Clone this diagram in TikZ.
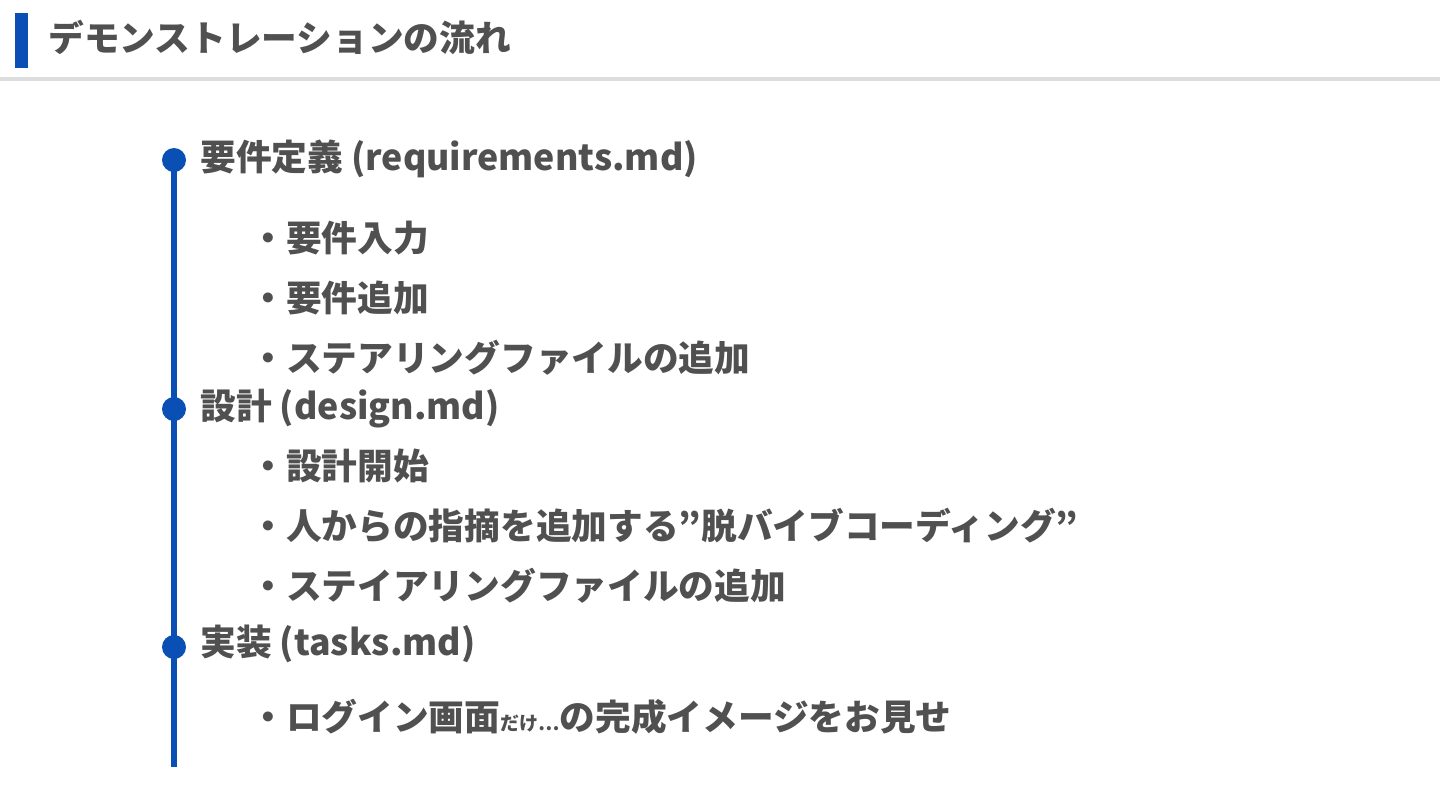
\documentclass[tikz,border=0pt]{standalone}
\usepackage{fontspec}
\setmainfont{Noto Sans CJK JP}
\definecolor{txt}{HTML}{505050}
\definecolor{accent}{HTML}{0A50B4}
\definecolor{rule}{HTML}{DDDDDD}
\begin{document}
\begin{tikzpicture}[x=0.5pt,y=-0.5pt,
  base/.style={anchor=west,inner sep=0pt,text=txt,font=\fontsize{17.85}{20}\selectfont\bfseries},
  head/.style={base},
  item/.style={base},
  dot/.style={circle,fill=accent,minimum size=12pt,inner sep=0pt}]
\useasboundingbox (0,0) rectangle (1440,810);
\fill[white] (0,0) rectangle (1440,810);
% header
\fill[accent] (15,13) rectangle (28,68);
\node[base] (title) at (48,37) {デモンストレーションの流れ};
\fill[rule] (0,77) rectangle (1440,81);
% timeline
\coordinate (top) at (174,160);
\coordinate (end) at (174,767);
\draw[accent,line width=3pt] (top) -- (end);
\node[dot] (d1) at (174,160) {};
\node[dot] (d2) at (174,409) {};
\node[dot] (d3) at (174,647) {};
% headings
\node[head] (h1) at (200,159) {要件定義 (requirements.md)};
\node[head] (h2) at (200,409) {設計 (design.md)};
\node[head] (h3) at (200,644) {実装 (tasks.md)};
% items
\node[item] (i1) at (250,238) {・要件入力};
\node[item] (i2) at (250,298) {・要件追加};
\node[item] (i3) at (250,358) {・ステアリングファイルの追加};
\node[item] (i4) at (250,466) {・設計開始};
\node[item] (i5) at (250,526) {・人からの指摘を追加する”脱バイブコーディング”};
\node[item] (i6) at (250,586) {・ステイアリングファイルの追加};
\node[item] (i7) at (250,717) {・ログイン画面{\fontsize{9.5}{10}\selectfont だけ…}の完成イメージをお見せ};
\end{tikzpicture}
\end{document}
